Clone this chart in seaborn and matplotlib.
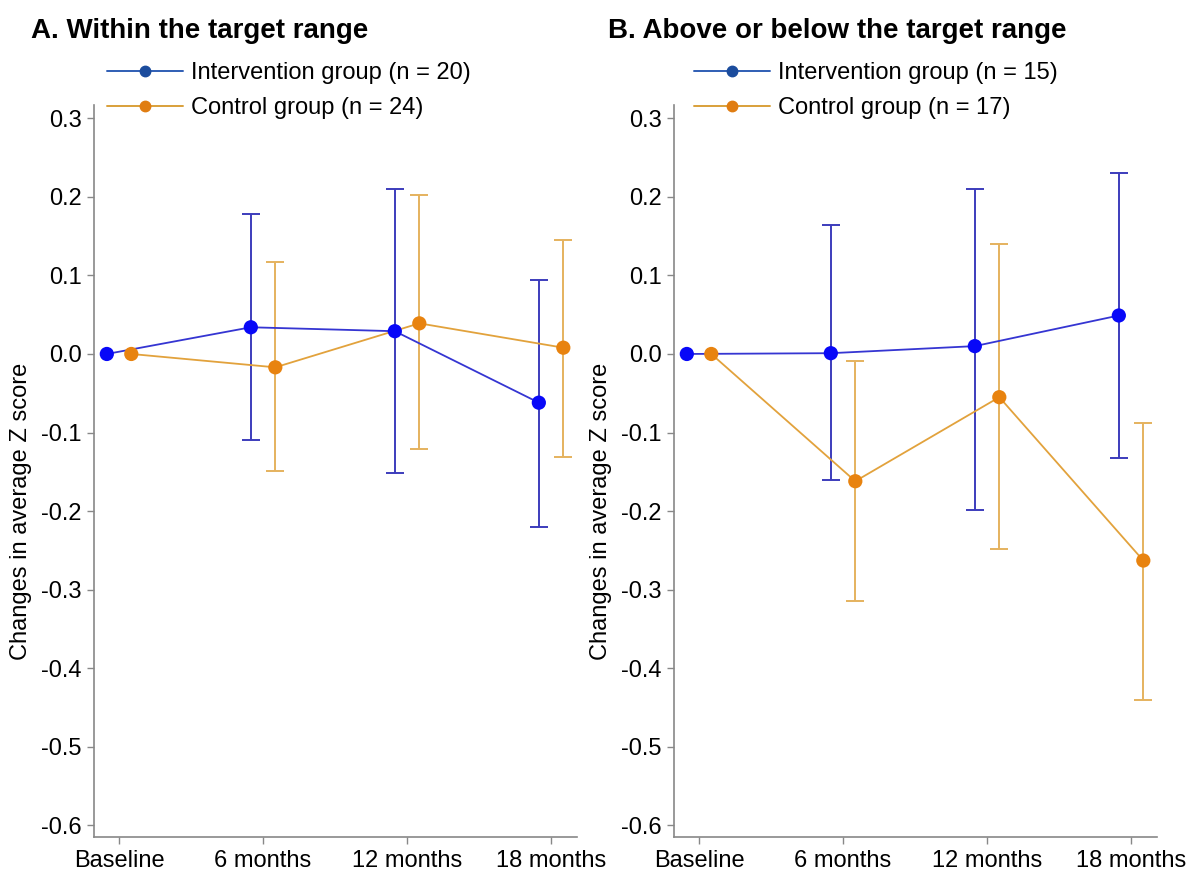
import numpy as np
import pandas as pd
import matplotlib
matplotlib.use("Agg")
import matplotlib.pyplot as plt
import seaborn as sns
from matplotlib.lines import Line2D

# ---------------- data ----------------
timepoints = ["Baseline", "6 months", "12 months", "18 months"]
groups = ["Intervention", "Control"]

# Panel A: within the target range
a_int_mean = [0.0, 0.034, 0.029, -0.062]
a_int_lo = [np.nan, -0.109, -0.151, -0.220]
a_int_hi = [np.nan, 0.178, 0.210, 0.094]
a_ctl_mean = [0.0, -0.017, 0.039, 0.008]
a_ctl_lo = [np.nan, -0.149, -0.121, -0.131]
a_ctl_hi = [np.nan, 0.117, 0.202, 0.145]
a_legend = ["Intervention group (n = 20)", "Control group (n = 24)"]

# Panel B: above or below the target range
b_int_mean = [0.0, 0.001, 0.010, 0.049]
b_int_lo = [np.nan, -0.161, -0.199, -0.133]
b_int_hi = [np.nan, 0.164, 0.210, 0.230]
b_ctl_mean = [0.0, -0.162, -0.055, -0.263]
b_ctl_lo = [np.nan, -0.315, -0.248, -0.440]
b_ctl_hi = [np.nan, -0.009, 0.140, -0.088]
b_legend = ["Intervention group (n = 15)", "Control group (n = 17)"]

yticks = [0.3, 0.2, 0.1, 0.0, -0.1, -0.2, -0.3, -0.4, -0.5, -0.6]

# ---------------- style ----------------
sns.set_style("ticks")
plt.rcParams["font.family"] = ["Liberation Sans", "DejaVu Sans"]
plt.rcParams["text.color"] = "black"
plt.rcParams["axes.labelcolor"] = "black"

line_col = {"Intervention": "#3535d2", "Control": "#e2a23c"}
dot_col = {"Intervention": "#0808f8", "Control": "#e8830f"}
err_col = {"Intervention": "#3c3cbc", "Control": "#e5b25e"}
leg_line = {"Intervention": "#2f5eb4", "Control": "#d9a03a"}
leg_dot = {"Intervention": "#1b4c9d", "Control": "#e07d12"}
offset = {"Intervention": -0.085, "Control": 0.085}
FS = 17
W, H = 1191, 872


def build(int_mean, int_lo, int_hi, ctl_mean, ctl_lo, ctl_hi):
    rows = []
    for g, m, lo, hi in [("Intervention", int_mean, int_lo, int_hi),
                         ("Control", ctl_mean, ctl_lo, ctl_hi)]:
        for i, t in enumerate(timepoints):
            rows.append({"group": g, "time": t, "idx": i,
                         "x": i + offset[g], "mean": m[i], "lo": lo[i], "hi": hi[i]})
    return pd.DataFrame(rows)


def panel(ax, df, title, legend_labels, title_x, leg_x):
    for g in groups:
        d = df[(df.group == g) & df.lo.notna()]
        ax.errorbar(d["x"], d["mean"], yerr=[d["mean"] - d["lo"], d["hi"] - d["mean"]],
                    fmt="none", ecolor=err_col[g], elinewidth=1.4, capsize=6.5,
                    capthick=1.4, zorder=2)
    sns.lineplot(data=df, x="x", y="mean", hue="group", palette=line_col,
                 hue_order=groups, ax=ax, legend=False, linewidth=1.3,
                 estimator=None, sort=True, zorder=3)
    sns.scatterplot(data=df, x="x", y="mean", hue="group", palette=dot_col,
                    hue_order=groups, ax=ax, legend=False, s=105,
                    edgecolor="none", zorder=4)
    ax.set_xlim(-0.174, 3.18)
    ax.set_ylim(-0.615, 0.317)
    ax.set_xticks(range(len(timepoints)))
    ax.set_xticklabels(timepoints)
    ax.set_yticks(yticks)
    ax.set_yticklabels([f"{v:.1f}" for v in yticks])
    ax.set_xlabel("")
    ax.set_ylabel("Changes in average Z score", fontsize=FS)
    ax.yaxis.set_label_coords(-0.128, 0.445)
    ax.tick_params(axis="both", labelsize=FS, length=5, width=1.0,
                   color="#888888", labelcolor="black", pad=4)
    for s in ["top", "right"]:
        ax.spines[s].set_visible(False)
    for s in ["left", "bottom"]:
        ax.spines[s].set_color("#888888")
        ax.spines[s].set_linewidth(1.2)
    fig = ax.figure
    fig.text(title_x / W, 1 - 38 / H, title, fontsize=20, fontweight="bold",
             va="baseline", ha="left", color="black")
    handles = [Line2D([], [], color=leg_line[g], lw=1.4, marker="o",
                      markersize=7.5, markerfacecolor=leg_dot[g],
                      markeredgecolor=leg_dot[g]) for g in groups]
    ax.legend(handles, legend_labels, loc="upper left",
              bbox_to_anchor=(leg_x / W, 1 - 62 / H), bbox_transform=fig.transFigure,
              frameon=False, borderpad=0, borderaxespad=0, handlelength=3.2,
              handletextpad=0.35, labelspacing=0.55, fontsize=FS)


fig = plt.figure(figsize=(W / 100, H / 100), dpi=100)
axA = fig.add_axes([94 / W, 35 / H, 483 / W, 732 / H])
axB = fig.add_axes([674 / W, 35 / H, 483 / W, 732 / H])

dfA = build(a_int_mean, a_int_lo, a_int_hi, a_ctl_mean, a_ctl_lo, a_ctl_hi)
dfB = build(b_int_mean, b_int_lo, b_int_hi, b_ctl_mean, b_ctl_lo, b_ctl_hi)

panel(axA, dfA, "A. Within the target range", a_legend, 31, 107)
panel(axB, dfB, "B. Above or below the target range", b_legend, 608, 694)

fig.savefig("out.png", dpi=100)
